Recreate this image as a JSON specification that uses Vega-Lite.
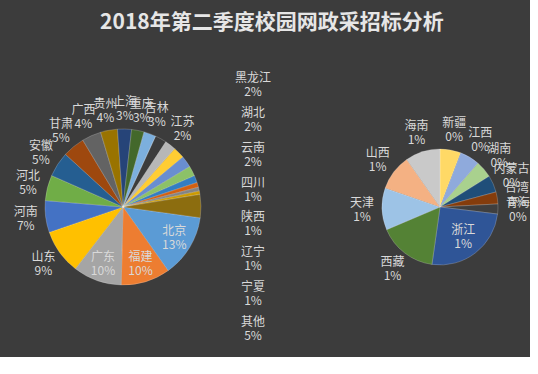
{
  "$schema": "https://vega.github.io/schema/vega-lite/v6.json",
  "background": "#3c3c3c",
  "padding": {"left": 13, "top": 12, "right": 0, "bottom": 0},
  "title": {"text": "2018年第二季度校园网政采招标分析", "fontSize": 21, "font": "Noto Sans CJK SC", "fontWeight": "bold", "color": "#e6e6e6", "anchor": "middle", "offset": 24},
  "config": {
    "view": {"stroke": null},
    "text": {"font": "Noto Sans CJK SC", "fontSize": 12, "fill": "#d9d9d9"},
    "arc": {"stroke": "#ffffff", "strokeWidth": 0.4, "strokeOpacity": 0.5}
  },
  "resolve": {"scale": {"color": "independent", "theta": "independent", "y": "independent"}},
  "datasets": {
    "main": [
      {"i": 1, "name": "北京", "value": 13.0, "pct": "13%"},
      {"i": 2, "name": "福建", "value": 10.2, "pct": "10%"},
      {"i": 3, "name": "广东", "value": 10.1, "pct": "10%"},
      {"i": 4, "name": "山东", "value": 9.3, "pct": "9%"},
      {"i": 5, "name": "河南", "value": 6.6, "pct": "7%"},
      {"i": 6, "name": "河北", "value": 5.3, "pct": "5%"},
      {"i": 7, "name": "安徽", "value": 5.2, "pct": "5%"},
      {"i": 8, "name": "甘肃", "value": 4.6, "pct": "5%"},
      {"i": 9, "name": "广西", "value": 4.0, "pct": "4%"},
      {"i": 10, "name": "贵州", "value": 3.5, "pct": "4%"},
      {"i": 11, "name": "上海", "value": 2.9, "pct": "3%"},
      {"i": 12, "name": "重庆", "value": 2.6, "pct": "3%"},
      {"i": 13, "name": "吉林", "value": 2.5, "pct": "3%"},
      {"i": 14, "name": "", "value": 2.4, "pct": "2%"},
      {"i": 15, "name": "江苏", "value": 2.3, "pct": "2%"},
      {"i": 16, "name": "黑龙江", "value": 2.4, "pct": "2%"},
      {"i": 17, "name": "湖北", "value": 2.4, "pct": "2%"},
      {"i": 18, "name": "云南", "value": 2.1, "pct": "2%"},
      {"i": 19, "name": "四川", "value": 1.5, "pct": "1%"},
      {"i": 20, "name": "陕西", "value": 1.0, "pct": "1%"},
      {"i": 21, "name": "辽宁", "value": 0.8, "pct": "1%"},
      {"i": 22, "name": "宁夏", "value": 0.7, "pct": "1%"},
      {"i": 23, "name": "其他", "value": 4.8, "pct": "5%"}
    ],
    "sub": [
      {"i": 1, "name": "新疆", "value": 21, "pct": "0%"},
      {"i": 2, "name": "江西", "value": 20, "pct": "0%"},
      {"i": 3, "name": "湖南", "value": 17, "pct": "0%"},
      {"i": 4, "name": "内蒙古", "value": 17, "pct": "0%"},
      {"i": 5, "name": "台湾", "value": 12, "pct": "0%"},
      {"i": 6, "name": "青海", "value": 10, "pct": "0%"},
      {"i": 7, "name": "浙江", "value": 91, "pct": "1%"},
      {"i": 8, "name": "西藏", "value": 59, "pct": "1%"},
      {"i": 9, "name": "天津", "value": 42, "pct": "1%"},
      {"i": 10, "name": "山西", "value": 36, "pct": "1%"},
      {"i": 11, "name": "海南", "value": 35, "pct": "1%"}
    ]
  },
  "spacing": 78,
  "hconcat": [
    {
      "spacing": 3,
      "resolve": {"scale": {"color": "independent", "theta": "independent", "y": "independent"}},
      "hconcat": [
        {
          "width": 216,
          "height": 300,
          "data": {"name": "main"},
          "encoding": {
            "theta": {"field": "value", "type": "quantitative", "stack": true, "scale": {"range": [1.71, 7.9932]}},
            "order": {"field": "i", "type": "quantitative"}
          },
          "layer": [
            {
              "mark": {"type": "arc", "outerRadius": 78},
              "encoding": {
                "color": {"field": "name", "type": "nominal", "legend": null,
                  "scale": {
                    "domain": ["北京","福建","广东","山东","河南","河北","安徽","甘肃","广西","贵州","上海","重庆","吉林","","江苏","黑龙江","湖北","云南","四川","陕西","辽宁","宁夏","其他"],
                    "range": ["#5B9BD5","#ED7D31","#A5A5A5","#FFC000","#4472C4","#70AD47","#255E91","#9E480E","#636363","#997300","#264478","#43682B","#7CAFDD","#F1975A","#B7B7B7","#FFCD33","#698ED0","#8CC168","#327DC2","#D26012","#848484","#CC9A00","#8C6D0F"]
                  }
                }
              }
            },
            {
              "mark": {"type": "text", "radius": 98, "dy": -7},
              "encoding": {"text": {"condition": {"test": "indexof(['山东','河南','河北','安徽','甘肃','广西','贵州','上海','重庆','吉林','','江苏'], datum.name) >= 0", "field": "name", "type": "nominal"}, "value": ""}}
            },
            {
              "mark": {"type": "text", "radius": 98, "dy": 7},
              "encoding": {"text": {"condition": {"test": "indexof(['山东','河南','河北','安徽','甘肃','广西','贵州','上海','重庆','吉林','','江苏'], datum.name) >= 0", "field": "pct", "type": "nominal"}, "value": ""}}
            },
            {
              "mark": {"type": "text", "radius": 60, "dy": -7},
              "encoding": {"text": {"condition": {"test": "indexof(['北京','福建','广东'], datum.name) >= 0", "field": "name", "type": "nominal"}, "value": ""}}
            },
            {
              "mark": {"type": "text", "radius": 60, "dy": 7},
              "encoding": {"text": {"condition": {"test": "indexof(['北京','福建','广东'], datum.name) >= 0", "field": "pct", "type": "nominal"}, "value": ""}}
            }
          ]
        },
        {
          "width": 26,
          "height": 300,
          "data": {"name": "main"},
          "transform": [{"filter": {"field": "name", "oneOf": ["黑龙江","湖北","云南","四川","陕西","辽宁","宁夏","其他"]}}],
          "encoding": {
            "y": {"field": "name", "type": "nominal", "axis": null,
              "scale": {"type": "point", "padding": 0.8, "domain": ["黑龙江","湖北","云南","四川","陕西","辽宁","宁夏","其他"]}}
          },
          "layer": [
            {"mark": {"type": "text", "dy": -7}, "encoding": {"text": {"field": "name", "type": "nominal"}}},
            {"mark": {"type": "text", "dy": 7}, "encoding": {"text": {"field": "pct", "type": "nominal"}}}
          ]
        }
      ]
    },
    {
      "width": 180,
      "height": 300,
      "data": {"name": "sub"},
      "encoding": {
        "theta": {"field": "value", "type": "quantitative", "stack": true},
        "order": {"field": "i", "type": "quantitative"}
      },
      "layer": [
        {
          "mark": {"type": "arc", "outerRadius": 58},
          "encoding": {
            "color": {"field": "name", "type": "nominal", "legend": null,
              "scale": {
                "domain": ["新疆","江西","湖南","内蒙古","台湾","青海","浙江","西藏","天津","山西","海南"],
                "range": ["#FFD966","#8FAADC","#A9D18E","#1F4E79","#843C0C","#3F3F3F","#2F5597","#548235","#9DC3E6","#F4B183","#C9C9C9"]
              }
            }
          }
        },
        {
          "mark": {"type": "text", "radius": 78, "dy": -7},
          "encoding": {"text": {"condition": {"test": "datum.name != '浙江'", "field": "name", "type": "nominal"}, "value": ""}}
        },
        {
          "mark": {"type": "text", "radius": 78, "dy": 7},
          "encoding": {"text": {"condition": {"test": "datum.name != '浙江'", "field": "pct", "type": "nominal"}, "value": ""}}
        },
        {
          "mark": {"type": "text", "radius": 38, "dy": -7},
          "encoding": {"text": {"condition": {"test": "datum.name == '浙江'", "field": "name", "type": "nominal"}, "value": ""}}
        },
        {
          "mark": {"type": "text", "radius": 38, "dy": 7},
          "encoding": {"text": {"condition": {"test": "datum.name == '浙江'", "field": "pct", "type": "nominal"}, "value": ""}}
        }
      ]
    }
  ]
}
